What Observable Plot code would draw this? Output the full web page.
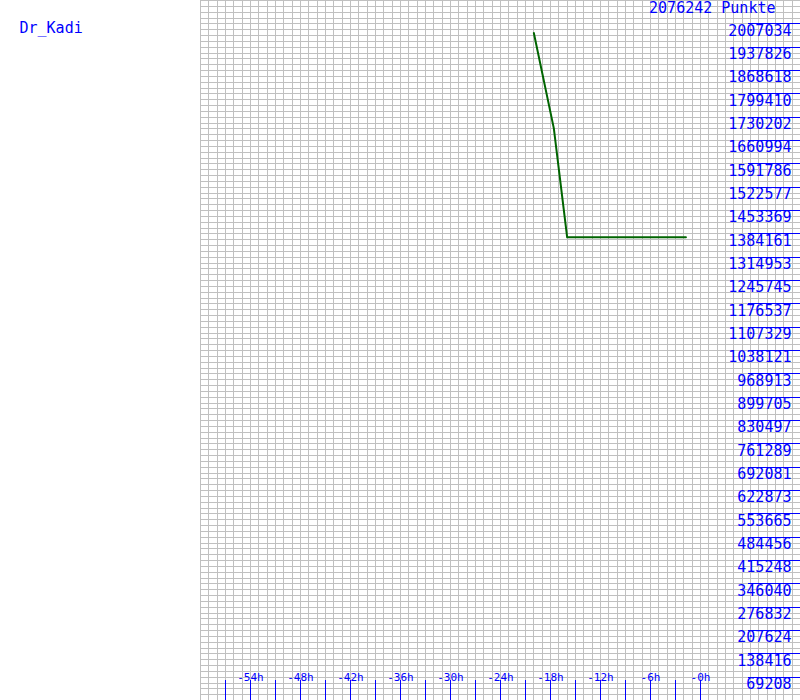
<!DOCTYPE html>
<html>
<head>
<meta charset="utf-8">
<script src="https://cdn.jsdelivr.net/npm/d3@7"></script>
<script src="https://cdn.jsdelivr.net/npm/@observablehq/plot@0.6"></script>
<style>
  html, body { margin: 0; padding: 0; background: #fff; }
  #chart svg { display: block; }
</style>
</head>
<body>
<div id="chart"></div>
<script>
// ---- data ----
const playerName = "Dr_Kadi";
const unitLabel = "Punkte";
const yMax = 2076242;
const yTickValues = [69208, 138416, 207624, 276832, 346040, 415248, 484456, 553665, 622873, 692081,
  761289, 830497, 899705, 968913, 1038121, 1107329, 1176537, 1245745, 1314953, 1384161,
  1453369, 1522577, 1591786, 1660994, 1730202, 1799410, 1868618, 1937826, 2007034];
const xTickHours = [-54, -48, -42, -36, -30, -24, -18, -12, -6, 0];
const xTickLabels = ["-54h", "-48h", "-42h", "-36h", "-30h", "-24h", "-18h", "-12h", "-6h", "-0h"];
const seriesHours = [-20, -17.6, -16, -1.75];
const seriesPoints = [1980000, 1697000, 1374000, 1374000];

// ---- derived tables ----
const xDomain = [-60, 12];
const series = seriesHours.map((h, i) => ({h, v: seriesPoints[i]}));
const yStep = yTickValues[0];
const gridX = d3.range(xDomain[0], xDomain[1] + 1, 1);
const gridY = d3.range(0, 121).map(k => k * yStep / 4);
const minorTicksX = d3.range(-57, 1, 3);
const xLabels = xTickHours.map((h, i) => ({h, label: xTickLabels[i]}));

const blue = "#0000ff";
const font = "'DejaVu Sans Mono', 'Liberation Mono', monospace";

const chart = Plot.plot({
  width: 800,
  height: 700,
  marginLeft: 200,
  marginRight: 0,
  marginTop: 0,
  marginBottom: 0,
  style: {fontFamily: font, background: "#fff"},
  x: {domain: xDomain, axis: null},
  y: {domain: [0, yMax], axis: null},
  marks: [
    // grid
    Plot.ruleX(gridX, {x: d => d, stroke: "#c0c0c0", strokeWidth: 1, strokeOpacity: 1, shapeRendering: "crispEdges"}),
    Plot.ruleY(gridY, {y: d => d, stroke: "#c0c0c0", strokeWidth: 1, strokeOpacity: 1, shapeRendering: "crispEdges"}),
    // series
    Plot.line(series, {x: "h", y: "v", stroke: "#006400", strokeWidth: 2}),
    // y axis lines & labels (right side)
    Plot.ruleY(yTickValues, {y: d => d, insetLeft: 548, stroke: blue, strokeWidth: 1, strokeOpacity: 1, shapeRendering: "crispEdges"}),
    Plot.text(yTickValues, {y: d => d, frameAnchor: "right", dx: -9, dy: 7, text: d => String(d),
      textAnchor: "end", lineAnchor: "middle", fill: blue, fontSize: 15, fontFamily: font}),
    Plot.text([`${yMax} ${unitLabel}`], {frameAnchor: "top-right", dx: -25, dy: 2, text: d => d,
      textAnchor: "end", lineAnchor: "top", fill: blue, fontSize: 15, fontFamily: font}),
    // x axis ticks & labels (bottom)
    Plot.ruleX(minorTicksX, {x: d => d, insetTop: 680, stroke: blue, strokeWidth: 1, strokeOpacity: 1, shapeRendering: "crispEdges"}),
    Plot.text(xLabels, {x: "h", frameAnchor: "bottom", dy: -23, text: "label",
      textAnchor: "middle", lineAnchor: "middle", fill: blue, fontSize: 11, fontFamily: font}),
    // player name
    Plot.text([playerName], {frameAnchor: "top-left", dx: -181, dy: 28, text: d => d,
      textAnchor: "start", lineAnchor: "middle", fill: blue, fontSize: 15, fontFamily: font})
  ]
});
document.getElementById("chart").appendChild(chart);
</script>
</body>
</html>
